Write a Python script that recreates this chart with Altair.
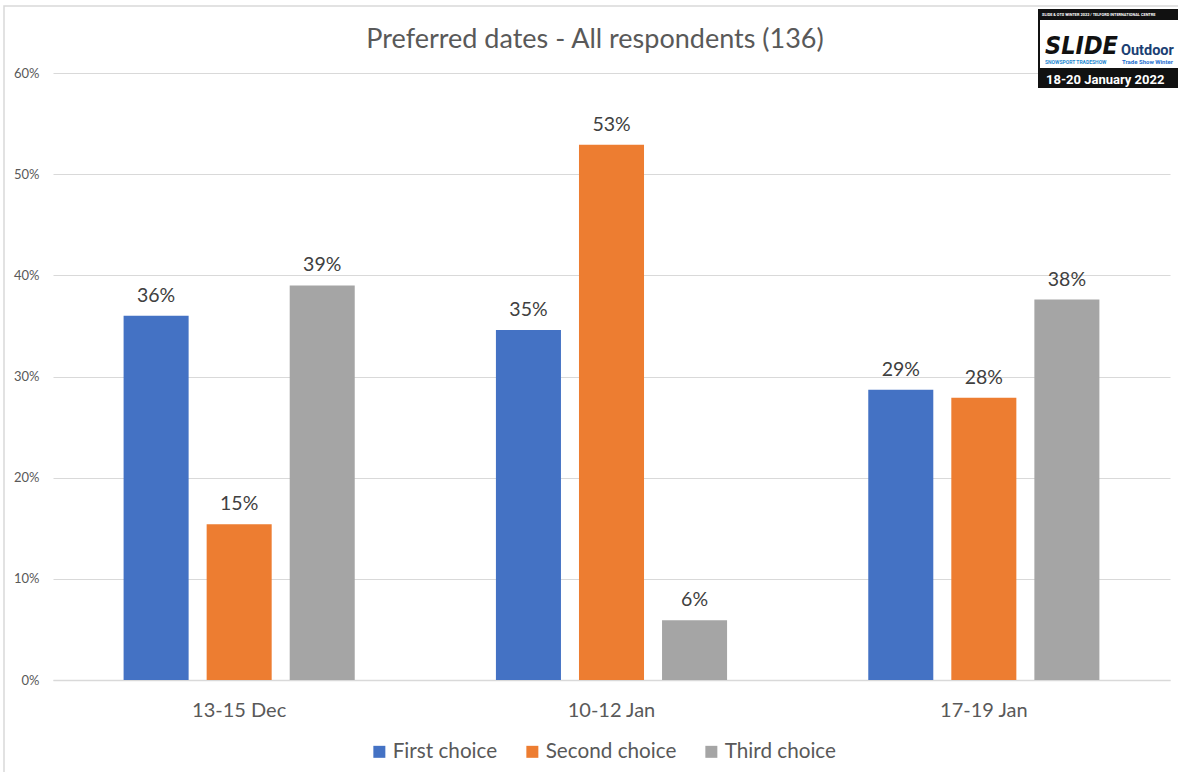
import altair as alt
import pandas as pd

# Survey results: share of respondents per date option and choice rank (%)
dates = ["13-15 Dec", "10-12 Jan", "17-19 Jan"]
choices = ["First choice", "Second choice", "Third choice"]
first_choice = [36.0, 34.6, 28.7]
second_choice = [15.4, 52.9, 27.9]
third_choice = [39.0, 5.9, 37.6]
colors = ["#4472C4", "#ED7D31", "#A5A5A5"]

rows = []
for series, vals in zip(choices, [first_choice, second_choice, third_choice]):
    for d, v in zip(dates, vals):
        rows.append({"date": d, "choice": series, "pct": v})
df = pd.DataFrame(rows)

FONT = "Lato"
W, H = 1117, 607

x_enc = alt.X("date:N", sort=dates, title=None,
              scale=alt.Scale(paddingInner=0, paddingOuter=0),
              axis=alt.Axis(labelFontSize=20, labelColor="#595959", labelFont=FONT,
                            labelBaseline="alphabetic", labelPadding=36, tickSize=0,
                            ticks=False, domainColor="#D9D9D9", domainWidth=1.5,
                            grid=False, labelAngle=0))
xoff_enc = alt.XOffset("choice:N", sort=choices,
                       scale=alt.Scale(paddingInner=0.217, paddingOuter=0.85))
y_enc = alt.Y("pct:Q", title=None,
              scale=alt.Scale(domain=[0, 60], nice=False),
              axis=alt.Axis(values=[0, 10, 20, 30, 40, 50, 60],
                            labelExpr="datum.value + '%'",
                            labelFontSize=13, labelColor="#595959", labelFont=FONT,
                            labelPadding=14, tickSize=0, ticks=False, domain=False,
                            gridColor="#D9D9D9", gridWidth=1))

base = alt.Chart(df)

bars = base.mark_bar().encode(
    x=x_enc,
    xOffset=xoff_enc,
    y=y_enc,
    color=alt.Color("choice:N", sort=choices,
                    scale=alt.Scale(domain=choices, range=colors),
                    legend=alt.Legend(title=None, orient="none", direction="horizontal",
                                      legendX=316, legendY=668, symbolType="square",
                                      symbolSize=144, symbolStrokeWidth=0,
                                      labelFontSize=20.7, labelColor="#595959",
                                      labelFont=FONT, labelOffset=3,
                                      columnPadding=24, padding=0)),
)

labels = base.transform_calculate(
    label="format(datum.pct, '.0f') + '%'"
).mark_text(fontSize=19.5, font=FONT, color="#404040", baseline="alphabetic",
            dy=-14).encode(
    x=alt.X("date:N", sort=dates),
    xOffset=alt.XOffset("choice:N", sort=choices),
    y="pct:Q",
    text="label:N",
)

one = pd.DataFrame({"k": [0]})
deco = alt.Chart(one)

title = deco.mark_text(fontSize=27, font=FONT, color="#595959",
                       align="center", baseline="alphabetic").encode(
    x=alt.value(542), y=alt.value(-25),
    text=alt.value("Preferred dates - All respondents (136)"))

border = deco.mark_rect(fill="transparent", stroke="#D9D9D9", strokeWidth=1.5).encode(
    x=alt.value(-49), x2=alt.value(1160), y=alt.value(-67), y2=alt.value(740))

# Event badge in the top-right corner
badge_bg = deco.mark_rect(color="#111111").encode(
    x=alt.value(985), x2=alt.value(1140), y=alt.value(-64), y2=alt.value(15))
badge_panel = deco.mark_rect(color="#FFFFFF").encode(
    x=alt.value(987), x2=alt.value(1140), y=alt.value(-53), y2=alt.value(-5))

def badge_text(txt, x, y, size, color, weight="bold", style="normal", font="Roboto"):
    return deco.mark_text(fontSize=size, font=font, color=color, fontWeight=weight,
                          fontStyle=style, align="left", baseline="alphabetic").encode(
        x=alt.value(x), y=alt.value(y), text=alt.value(txt))

badge = [
    badge_bg, badge_panel,
    badge_text("SLIDE & OTS WINTER 2022  /  TELFORD INTERNATIONAL CENTRE", 989, -57, 3.9, "#FFFFFF"),
    badge_text("SLIDE", 992, -19, 25, "#111111", style="italic", font="DejaVu Sans Condensed"),
    badge_text("SNOWSPORT TRADESHOW", 992, -9, 5, "#1E88D0"),
    badge_text("Outdoor", 1068, -18, 14.5, "#1B3F73"),
    badge_text("Trade Show Winter", 1069, -9, 6, "#1E6FD0"),
    badge_text("18-20 January 2022", 993, 11, 13, "#FFFFFF"),
]

chart = alt.layer(border, bars, labels, title, *badge).properties(
    width=W, height=H,
    background="#FFFFFF",
    padding={"left": 53, "top": 73, "right": 8, "bottom": 92},
    autosize=alt.AutoSizeParams(type="none"),
).configure_view(stroke="transparent", strokeWidth=0)

chart.save("out.html", embed_options={"renderer": "svg", "actions": False})
